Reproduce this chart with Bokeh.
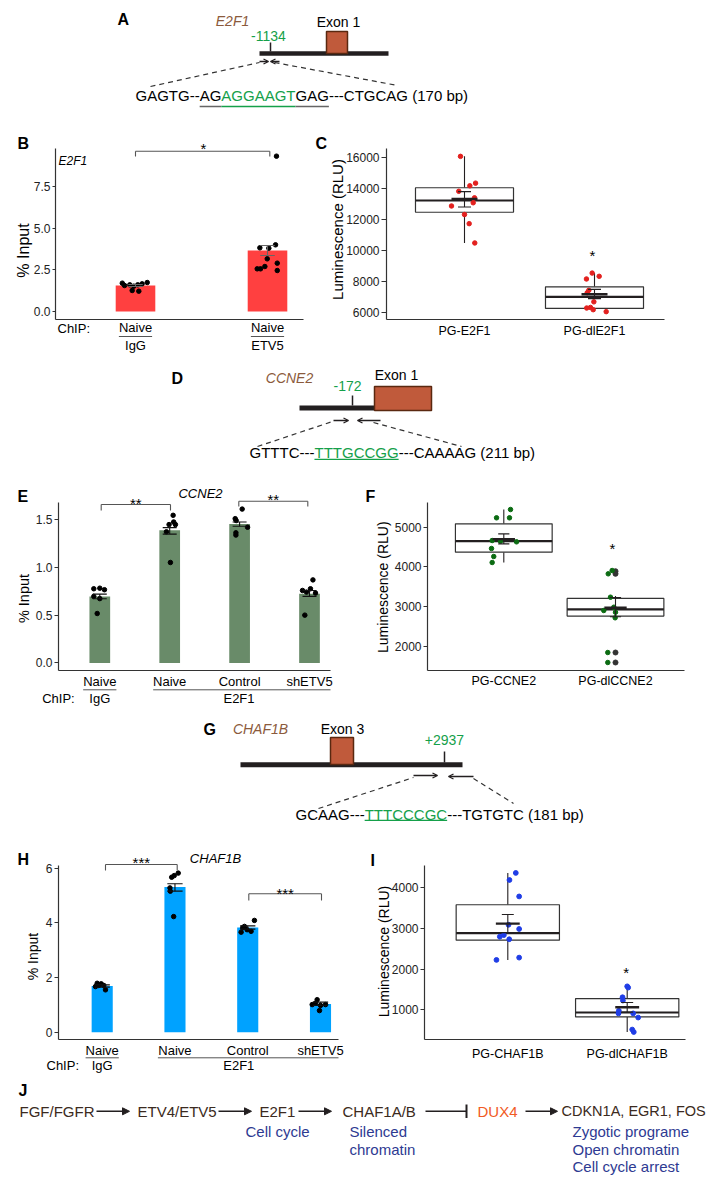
from math import pi
from bokeh.plotting import figure
from bokeh.layouts import column, row
from bokeh.models import (Range1d, FixedTicker, Label, Arrow, OpenHead, NormalHead,
                          NumeralTickFormatter, GridBox, Spacer)
from bokeh.embed import file_html
from bokeh.resources import INLINE

# ======================= DATA =======================
# Panel A / D / G : promoter diagrams
a_gene, a_site, a_exon = "E2F1", "-1134", "Exon 1"
a_seq = [("GAGTG--", "k", None), ("AG", "k", "grey"), ("AGGAAGT", "g", "g"),
         ("GAG", "k", "grey"), ("---CTGCAG (170 bp)", "k", None)]
d_gene, d_site, d_exon = "CCNE2", "-172", "Exon 1"
d_seq = [("GTTTC---", "k", None), ("TTTGCCGG", "g", "g"), ("---CAAAAG (211 bp)", "k", None)]
g_gene, g_site, g_exon = "CHAF1B", "+2937", "Exon 3"
g_seq = [("GCAAG---", "k", None), ("TTTCCCGC", "g", "g"), ("---TGTGTC (181 bp)", "k", None)]

# Panel B : ChIP E2F1 promoter (% input)
b_xlabels = ["Naive", "Naive"]
b_antibody = ["IgG", "ETV5"]
b_mean = [1.56, 3.66]
b_err_lo = [1.50, 3.36]
b_err_hi = [1.62, 3.96]
b_pt_group = [1] * 9 + [2] * 10
b_pt_jitter = [-0.10, -0.083, -0.043, -0.013, 0.017, 0.05, 0.089, -0.025, 0.025,
               -0.058, 0.01, 0.061, -0.002, 0.074, -0.078, -0.053, -0.02, 0.074, 0.068]
b_pt_value = [1.70, 1.56, 1.60, 1.52, 1.60, 1.66, 1.74, 1.26, 1.22,
              3.82, 3.80, 4.00, 3.16, 2.90, 2.56, 2.56, 2.70, 2.46, 9.32]
b_yticks = [0, 2.5, 5, 7.5]

# Panel C : luciferase E2F1 promoter
c_xlabels = ["PG-E2F1", "PG-dlE2F1"]
c_q1 = [12475, 6272]
c_median = [13234, 7013]
c_q3 = [14057, 7665]
c_whisker_lo = [10494, 6063]
c_whisker_hi = [16082, 8551]
c_mean = [13340, 7181]
c_se_lo = [12816, 6905]
c_se_hi = [13804, 7500]
c_pt_group = [1] * 10 + [2] * 10
c_pt_jitter = [-0.031, 0.085, 0.041, -0.044, 0.077, 0.067, -0.10, 0.0, 0.036, 0.079,
               -0.018, -0.062, 0.036, -0.044, -0.056, -0.005, -0.031, -0.01, -0.06, 0.09]
c_pt_value = [16082, 14354, 14183, 13829, 13405, 13089, 12880, 12329, 11741, 10494,
              8551, 8171, 8342, 7437, 7285, 6696, 6335, 6190, 6297, 6063]
c_yticks = [6000, 8000, 10000, 12000, 14000, 16000]

# Panel E : ChIP CCNE2
e_xlabels = ["Naive", "Naive", "Control", "shETV5"]
e_antibody = ["IgG", "E2F1"]
e_mean = [0.696, 1.389, 1.455, 0.724]
e_err_lo = [0.672, 1.348, 1.430, 0.696]
e_err_hi = [0.720, 1.416, 1.475, 0.758]
e_pt_group = [1] * 6 + [2] * 6 + [3] * 6 + [4] * 6
e_pt_jitter = [-0.086, 0.0, 0.067, -0.086, 0.0, -0.037,
               0.049, -0.009, 0.057, 0.082, -0.047, 0.01,
               0.037, -0.063, -0.049, 0.114, -0.053, -0.053,
               0.049, -0.10, 0.014, -0.043, 0.086, -0.067]
e_pt_value = [0.776, 0.782, 0.766, 0.696, 0.673, 0.517,
              1.545, 1.448, 1.475, 1.448, 1.372, 1.051,
              1.610, 1.510, 1.490, 1.420, 1.362, 1.338,
              0.869, 0.758, 0.776, 0.741, 0.731, 0.500]
e_yticks = [0, 0.5, 1.0, 1.5]

# Panel F : luciferase CCNE2
f_xlabels = ["PG-CCNE2", "PG-dlCCNE2"]
f_q1 = [4372, 2764]
f_median = [4648, 2932]
f_q3 = [5084, 3209]
f_whisker_lo = [4112, 2680]
f_whisker_hi = [5445, 3267]
f_mean = [4700, 2974]
f_se_lo = [4580, 2750]
f_se_hi = [4832, 3233]
f_pt_group = [1] * 9 + [2] * 9
f_pt_jitter = [0.06, -0.065, 0.051, -0.104, -0.03, 0.114, -0.11, -0.09, -0.104,
               -0.065, -0.03, -0.045, -0.105, -0.015, 0.0, -0.003, -0.069, -0.069]
f_pt_value = [5445, 5236, 5236, 4665, 4648, 4632, 4464, 4263, 4112,
              3828, 3911, 3240, 2905, 2988, 2862, 2722, 1849, 1598]
f_out_group = [2, 2, 2, 2]
f_out_value = [3893, 3828, 1849, 1598]
f_yticks = [2000, 3000, 4000, 5000]

# Panel H : ChIP CHAF1B
h_xlabels = ["Naive", "Naive", "Control", "shETV5"]
h_antibody = ["IgG", "E2F1"]
h_mean = [1.69, 5.31, 3.83, 1.03]
h_err_lo = [1.65, 5.16, 3.77, 0.98]
h_err_hi = [1.73, 5.43, 3.89, 1.10]
h_pt_group = [1] * 6 + [2] * 6 + [3] * 6 + [4] * 6
h_pt_jitter = [-0.069, -0.014, -0.047, 0.022, 0.045, -0.092,
               0.045, -0.01, -0.045, -0.069, -0.064, -0.018,
               0.092, -0.069, -0.009, 0.046, -0.091, -0.045,
               -0.046, -0.069, -0.114, 0.069, 0.0, -0.014]
h_pt_value = [1.79, 1.77, 1.71, 1.71, 1.55, 1.67,
              5.82, 5.73, 5.67, 5.28, 5.16, 4.23,
              4.09, 3.82, 3.75, 3.69, 3.66, 3.87,
              1.19, 1.06, 1.01, 1.01, 0.98, 0.79]
h_yticks = [0, 2, 4, 6]

# Panel I : luciferase CHAF1B
i_xlabels = ["PG-CHAF1B", "PG-dlCHAF1B"]
i_q1 = [2711, 825]
i_median = [2884, 934]
i_q3 = [3582, 1276]
i_whisker_lo = [2226, 454]
i_whisker_hi = [4363, 1577]
i_mean = [3119, 1062]
i_se_lo = [2897, 943]
i_se_hi = [3341, 1181]
i_pt_group = [1] * 10 + [2] * 10
i_pt_jitter = [0.067, 0.014, 0.095, 0.006, 0.095, -0.033, -0.067, 0.012, -0.095, 0.095,
               0.0, 0.008, -0.039, -0.036, -0.07, -0.073, 0.05, 0.092, 0.042, 0.055]
i_pt_value = [4363, 4190, 3786, 3090, 2986, 2836, 2796, 2734, 2226, 2283,
              1577, 1546, 1309, 1228, 976, 912, 912, 810, 515, 454]
i_yticks = [1000, 2000, 3000, 4000]

# Panel J : pathway
j_nodes = ["FGF/FGFR", "ETV4/ETV5", "E2F1", "CHAF1A/B", "DUX4", "CDKN1A, EGR1, FOS"]
j_notes_e2f1 = ["Cell cycle"]
j_notes_chaf = ["Silenced", "chromatin"]
j_notes_out = ["Zygotic programe", "Open chromatin", "Cell cycle arrest"]

# ======================= STYLE / HELPERS =======================
FONT = "Liberation Sans"
INK = "#231f20"
AXIS = "#333333"
GREEN = "#15a04a"
BROWN = "#8b5a3c"
EXON_FILL = "#c05a3b"
EXON_LINE = "#5a2810"
NODE = "#3b2a20"
NOTE = "#2e3a92"
BRK = "#555555"
PAGE_W, PAGE_H = 711, 1180

AW = {' ': 278, '(': 333, ')': 333, '-': 333, '/': 278, ',': 278, '+': 584,
      'A': 667, 'B': 667, 'C': 722, 'D': 722, 'E': 667, 'F': 611, 'G': 778, 'H': 722,
      'I': 278, 'K': 667, 'L': 556, 'N': 722, 'O': 778, 'P': 667, 'R': 722, 'S': 667,
      'T': 611, 'U': 722, 'V': 667, 'a': 556, 'b': 556, 'c': 500, 'e': 556, 'g': 556,
      'h': 556, 'i': 222, 'l': 222, 'm': 833, 'n': 556, 'o': 556, 'p': 556, 'r': 333,
      's': 500, 't': 278, 'u': 556, 'v': 500, 'y': 500, 'z': 500}


def tw(s, fs):
    return sum(AW.get(c, 556) for c in s) * fs / 1000.0


# overlay canvas in page pixel coordinates (y downwards) for diagrams and annotations
ov = figure(width=PAGE_W, height=PAGE_H, x_range=Range1d(0, PAGE_W), y_range=Range1d(PAGE_H, 0),
            x_axis_location=None, y_axis_location=None, title=None,
            output_backend="svg", toolbar_location=None, min_border=0)
ov.xgrid.visible = False
ov.ygrid.visible = False
ov.outline_line_color = None
ov.background_fill_color = None
ov.border_fill_color = None


def lab(x, y, text, fs, color="black", style="normal", align="left", baseline="middle", angle=0.0):
    ov.add_layout(Label(x=x, y=y, text=text, text_font=FONT, text_font_size=f"{fs}px",
                        text_color=color, text_font_style=style, text_align=align,
                        text_baseline=baseline, angle=angle))


def seg(x0, y0, x1, y1, color=INK, lw=1.0, dash="solid"):
    ov.segment(x0, y0, x1, y1, line_color=color, line_width=lw, line_dash=dash)


def draw_seq(x0, yc, y_ul, parts, fs=15):
    x = x0
    cols = {"k": "black", "g": GREEN, "grey": "#666666"}
    for txt, c, ul in parts:
        w = tw(txt, fs)
        lab(x, yc, txt, fs, cols[c])
        if ul:
            seg(x, y_ul, x + w, y_ul, cols[ul], 1.3)
        x += w


def primer_arrow(x0, y, x1):
    ov.add_layout(Arrow(x_start=x0, y_start=y, x_end=x1, y_end=y, line_color=INK, line_width=1.3,
                        end=OpenHead(size=5, line_color=INK, line_width=1.3)))


def gene_diagram(letter, lpos, gene, gpos, site, spos, exon, epos, box, ln, tick,
                 arrows, dashes, seq, seqpos):
    lab(lpos[0], lpos[1], letter, 16, style="bold")
    lab(gpos[0], gpos[1], gene, 14, BROWN, "italic", "center")
    lab(spos[0], spos[1], site, 14, GREEN, align="center")
    lab(epos[0], epos[1], exon, 14, align="center")
    seg(ln[0], ln[2], ln[1], ln[2], INK, ln[3])
    seg(tick[0], tick[1], tick[0], tick[2], INK, 1.5)
    ov.quad(left=box[0], right=box[1], top=box[2], bottom=box[3],
            fill_color=EXON_FILL, line_color=EXON_LINE, line_width=1.5)
    for a in arrows:
        primer_arrow(*a)
    for d in dashes:
        seg(d[0], d[1], d[2], d[3], "#333333", 1.2, "5 4")
    draw_seq(seqpos[0], seqpos[1], seqpos[2], seq)


def star(px, pyc, txt, fs=15):
    lab(px, pyc + 0.217 * fs, txt, fs, "black", align="center")


def bracket(x0, x1, ytop, yleg, col=BRK):
    seg(x0, ytop, x1, ytop, col, 1.1)
    seg(x0, ytop, x0, yleg, col, 1.1)
    seg(x1, ytop, x1, yleg, col, 1.1)


def ytitle(xc, yc, text, fs):
    lab(xc, yc, text, fs, "black", align="center", angle=pi / 2)


def chip_rows(chip_pos, ul_y, ab_y, ul_spans, ab_pos, antibodies):
    lab(chip_pos[0], chip_pos[1], "ChIP:", 13)
    for (x0, x1) in ul_spans:
        seg(x0, ul_y, x1, ul_y, BRK, 1.0)
    for x, ab in zip(ab_pos, antibodies):
        lab(x, ab_y, ab, 13, align="center")


def make_chart(cx0, cy0, w, h, frame, xcal, ycal):
    l, t, r, b = frame
    (xv0, xp0), (xv1, xp1) = xcal
    kx = (xp1 - xp0) / (xv1 - xv0)
    (yv0, yp0), (yv1, yp1) = ycal
    ky = (yp0 - yp1) / (yv1 - yv0)
    xr = Range1d(xv0 + (l - xp0) / kx, xv0 + (r - xp0) / kx)
    yr = Range1d(yv0 + (yp0 - b) / ky, yv0 + (yp0 - t) / ky)
    p = figure(width=w, height=h, x_range=xr, y_range=yr, title=None,
               output_backend="svg", toolbar_location=None,
               min_border_left=l - cx0, min_border_right=cx0 + w - r,
               min_border_top=t - cy0, min_border_bottom=cy0 + h - b)
    p.outline_line_color = None
    p.xgrid.visible = False
    p.ygrid.visible = False
    return p


def style_axes(p, yticks, yfmt, xlabels, xfs, xstandoff, ystandoff=2, ytick_out=4):
    ya = p.yaxis[0]
    xa = p.xaxis[0]
    ya.ticker = FixedTicker(ticks=yticks)
    ya.formatter = NumeralTickFormatter(format=yfmt)
    for ax in (xa, ya):
        ax.major_label_text_font = FONT
        ax.major_label_text_color = "#222222"
        ax.axis_line_color = AXIS
        ax.axis_line_width = 1.2
        ax.major_tick_line_color = AXIS
        ax.minor_tick_line_color = None
        ax.major_tick_in = 0
    ya.major_label_text_font_size = "12px"
    ya.major_label_standoff = ystandoff
    ya.major_tick_out = ytick_out
    xt = list(range(1, len(xlabels) + 1))
    xa.ticker = FixedTicker(ticks=xt)
    xa.major_label_overrides = {t: s for t, s in zip(xt, xlabels)}
    xa.major_label_text_font_size = f"{xfs}px"
    xa.major_label_text_color = "black"
    xa.major_label_standoff = xstandoff
    xa.major_tick_out = 0
    xa.major_tick_line_color = None


def jitter_x(groups, jit):
    return [g + j for g, j in zip(groups, jit)]


def bars(p, means, lo, hi, px, pv, color, bw, cw, ecol, psize):
    xs = list(range(1, len(means) + 1))
    p.vbar(x=xs, top=means, bottom=0, width=bw, fill_color=color, line_color=None)
    p.scatter(px, pv, size=psize, color="black")
    p.segment(xs, lo, xs, hi, line_color=ecol, line_width=1.1)
    p.segment([x - cw / 2 for x in xs], hi, [x + cw / 2 for x in xs], hi, line_color=ecol, line_width=1.1)
    p.segment([x - cw / 2 for x in xs], lo, [x + cw / 2 for x in xs], lo, line_color=ecol, line_width=1.1)


def boxes(p, q1, med, q3, wlo, whi, mean, slo, shi, px, pv, pcol, bw, psize, out_x=None, out_v=None):
    xs = list(range(1, len(q1) + 1))
    p.segment(xs, q3, xs, whi, line_color=INK, line_width=1.1)
    p.segment(xs, q1, xs, wlo, line_color=INK, line_width=1.1)
    p.quad(left=[x - bw / 2 for x in xs], right=[x + bw / 2 for x in xs], bottom=q1, top=q3,
           fill_color="white", line_color="#333333", line_width=1.2)
    p.segment([x - bw / 2 for x in xs], med, [x + bw / 2 for x in xs], med, line_color=INK, line_width=2.2)
    if out_x is not None:
        p.scatter(out_x, out_v, size=psize + 0.5, color="#333333")
    p.scatter(px, pv, size=psize, color=pcol)
    cw, mw = 0.1, 0.2
    p.segment(xs, slo, xs, shi, line_color=INK, line_width=1.1)
    p.segment([x - cw / 2 for x in xs], shi, [x + cw / 2 for x in xs], shi, line_color=INK, line_width=1.1)
    p.segment([x - cw / 2 for x in xs], slo, [x + cw / 2 for x in xs], slo, line_color=INK, line_width=1.1)
    p.segment([x - mw / 2 for x in xs], mean, [x + mw / 2 for x in xs], mean, line_color=INK, line_width=2.4)


# ======================= PANEL A =======================
gene_diagram("A", (117, 19), a_gene, (232, 20), a_site, (268, 35), a_exon, (338, 21),
             (326, 347, 31, 53), (259, 388, 53, 4.5), (270, 42, 51),
             [(259, 61, 268), (279, 61, 270)],
             [(150, 86, 259, 62), (274, 62, 397, 85)],
             a_seq, (135, 95.2, 106))

# ======================= PANEL B =======================
pb = make_chart(0, 110, 310, 242, (55, 148, 303, 319), ((1, 135), (2, 267)), ((0, 311), (7.5, 186)))
style_axes(pb, b_yticks, "0.0", b_xlabels, 13, 0, ytick_out=3)
bars(pb, b_mean, b_err_lo, b_err_hi, jitter_x(b_pt_group, b_pt_jitter), b_pt_value,
     "#ff4040", 0.30, 0.11, "#666666", 4.5)
lab(17, 142.5, "B", 16, style="bold")
ytitle(23, 250, "% Input", 16)
lab(58, 160, "E2F1", 12, style="italic")
bracket(135, 269.3, 150.7, 156)
star(203, 145.2, "*")
wn = tw("Naive", 13)
chip_rows((57, 328), 336, 344.5, [(135 - wn / 2, 135 + wn / 2), (267 - wn / 2, 267 + wn / 2)],
          [135, 267], b_antibody)

# ======================= PANEL C =======================
pc = make_chart(310, 110, 401, 242, (386, 145, 664, 319), ((1, 464), (2, 594)), ((6000, 312), (16000, 154.3)))
style_axes(pc, c_yticks, "0", c_xlabels, 12.5, 4, ystandoff=2, ytick_out=5)
boxes(pc, c_q1, c_median, c_q3, c_whisker_lo, c_whisker_hi, c_mean, c_se_lo, c_se_hi,
      jitter_x(c_pt_group, c_pt_jitter), c_pt_value, "#e3211f", 0.754, 4.5)
lab(315, 142.5, "C", 16, style="bold")
ytitle(336.5, 229, "Luminescence (RLU)", 15)
star(592, 251.7, "*")

# ======================= PANEL D =======================
gene_diagram("D", (171, 378), d_gene, (289, 377), d_site, (347, 385), d_exon, (396, 374),
             (374, 431, 386, 410), (299, 376, 407.5, 5), (352, 395, 405),
             [(333, 420, 348), (380, 420, 357)],
             [(257, 446, 332, 421), (373, 422, 461, 446)],
             d_seq, (249, 452.3, 458.8))

# ======================= PANEL E =======================
pe = make_chart(0, 480, 345, 240, (58, 501, 330, 671), ((1, 99.3), (4, 309)), ((0, 663.3), (1.5, 518.3)))
style_axes(pe, e_yticks, "0.0", e_xlabels, 13, 3, ytick_out=4)
bars(pe, e_mean, e_err_lo, e_err_hi, jitter_x(e_pt_group, e_pt_jitter), e_pt_value,
     "#698b69", 0.296, 0.2, "#111111", 4.5)
lab(17, 496, "E", 16, style="bold")
ytitle(23, 598, "% Input", 14.5)
lab(200, 493, "CCNE2", 13, style="italic", align="center")
bracket(100.7, 170, 504, 510)
bracket(238.3, 307.3, 500.7, 506)
star(135.3, 499.3, "**")
star(272.8, 496, "**")
chip_rows((41.7, 698), 689.3, 698,
          [(99.3 - tw(e_xlabels[0], 13) / 2, 99.3 + tw(e_xlabels[0], 13) / 2),
           (169.3 - tw(e_xlabels[1], 13) / 2, 330)],
          [99.3, 238.5], e_antibody)

# ======================= PANEL F =======================
pf = make_chart(345, 480, 366, 240, (427, 502, 684, 670), ((1, 503.3), (2, 615)), ((2000, 646), (5000, 526.7)))
style_axes(pf, f_yticks, "0", f_xlabels, 12.5, 3, ystandoff=2, ytick_out=4)
boxes(pf, f_q1, f_median, f_q3, f_whisker_lo, f_whisker_hi, f_mean, f_se_lo, f_se_hi,
      jitter_x(f_pt_group, f_pt_jitter), f_pt_value, "#0b6b12", 0.866, 4.5,
      out_x=f_out_group, out_v=f_out_value)
lab(365, 496, "F", 16, style="bold")
ytitle(382, 586.7, "Luminescence (RLU)", 14)
star(612, 545, "*")

# ======================= PANEL G =======================
gene_diagram("G", (203, 728.5), g_gene, (260, 728), g_site, (444, 739), g_exon, (342, 728),
             (330, 353, 737, 764), (240, 462, 764.2, 5), (444, 751, 762),
             [(413, 775, 437), (473, 776, 448)],
             [(318, 808, 413, 777), (473, 778, 513, 803)],
             g_seq, (295, 813.7, 819.8))

# ======================= PANEL H =======================
ph = make_chart(0, 840, 350, 235, (58, 865, 338, 1039), ((1, 101.7), (4, 320)), ((0, 1031.7), (6, 867.7)))
style_axes(ph, h_yticks, "0", h_xlabels, 13, 3, ytick_out=4)
bars(ph, h_mean, h_err_lo, h_err_hi, jitter_x(h_pt_group, h_pt_jitter), h_pt_value,
     "#00a2ff", 0.29, 0.21, "#111111", 4.5)
lab(17, 859, "H", 16, style="bold")
ytitle(32, 956, "% Input", 14)
lab(215, 858, "CHAF1B", 13, style="italic", align="center")
bracket(105, 176.7, 864, 870)
bracket(248.3, 321, 893.3, 900)
star(140.8, 858.3, "***")
star(284.7, 889.7, "***")
chip_rows((46, 1065.3), 1057.3, 1065.3,
          [(101.7 - tw(h_xlabels[0], 13) / 2, 101.7 + tw(h_xlabels[0], 13) / 2),
           (174 - tw(h_xlabels[1], 13) / 2, 338)],
          [101.7, 238.3], h_antibody)

# ======================= PANEL I =======================
pi_ = make_chart(350, 840, 361, 235, (424, 863, 685, 1043), ((1, 507.3), (2, 626.7)), ((1000, 1012.3), (4000, 886)))
style_axes(pi_, i_yticks, "0", i_xlabels, 12.5, 7, ystandoff=2, ytick_out=4)
boxes(pi_, i_q1, i_median, i_q3, i_whisker_lo, i_whisker_hi, i_mean, i_se_lo, i_se_hi,
      jitter_x(i_pt_group, i_pt_jitter), i_pt_value, "#1f3de6", 0.865, 4.8)
lab(370, 860, "I", 16, style="bold")
ytitle(383, 951, "Luminescence (RLU)", 14)
star(625.7, 968.3, "*")

# ======================= PANEL J =======================
lab(18, 1090, "J", 16, style="bold")
node_x = [19, 137, 259, 342, 477, 561]
node_fs = [15, 15, 15, 15, 15, 14.5]
for k, (txt, x) in enumerate(zip(j_nodes, node_x)):
    lab(x, 1110.8, txt, node_fs[k], "#f15a24" if txt == "DUX4" else NODE)
for x0, x1 in [(96, 129), (218, 251), (298, 331), (525, 557)]:
    ov.add_layout(Arrow(x_start=x0, y_start=1110.8, x_end=x1, y_end=1110.8, line_color=INK, line_width=1.6,
                        end=NormalHead(size=7, fill_color=INK, line_color=INK, line_width=1)))
seg(425, 1110.8, 466, 1110.8, INK, 1.6)
seg(466, 1104, 466, 1117.5, INK, 2)
lab(245, 1131, j_notes_e2f1[0], 15, NOTE)
for k, t in enumerate(j_notes_chaf):
    lab(349, 1131 + 17.5 * k, t, 15, NOTE)
for k, t in enumerate(j_notes_out):
    lab(572, 1131 + 17.5 * k, t, 15, NOTE)

# ======================= LAYOUT =======================
charts = column(Spacer(width=PAGE_W, height=110), row(pb, pc), Spacer(width=PAGE_W, height=128),
                row(pe, pf), Spacer(width=PAGE_W, height=120), row(ph, pi_),
                Spacer(width=PAGE_W, height=PAGE_H - 1075))
layout = GridBox(children=[(charts, 0, 0), (ov, 0, 0)])
open("out.html", "w").write(file_html(layout, INLINE))
